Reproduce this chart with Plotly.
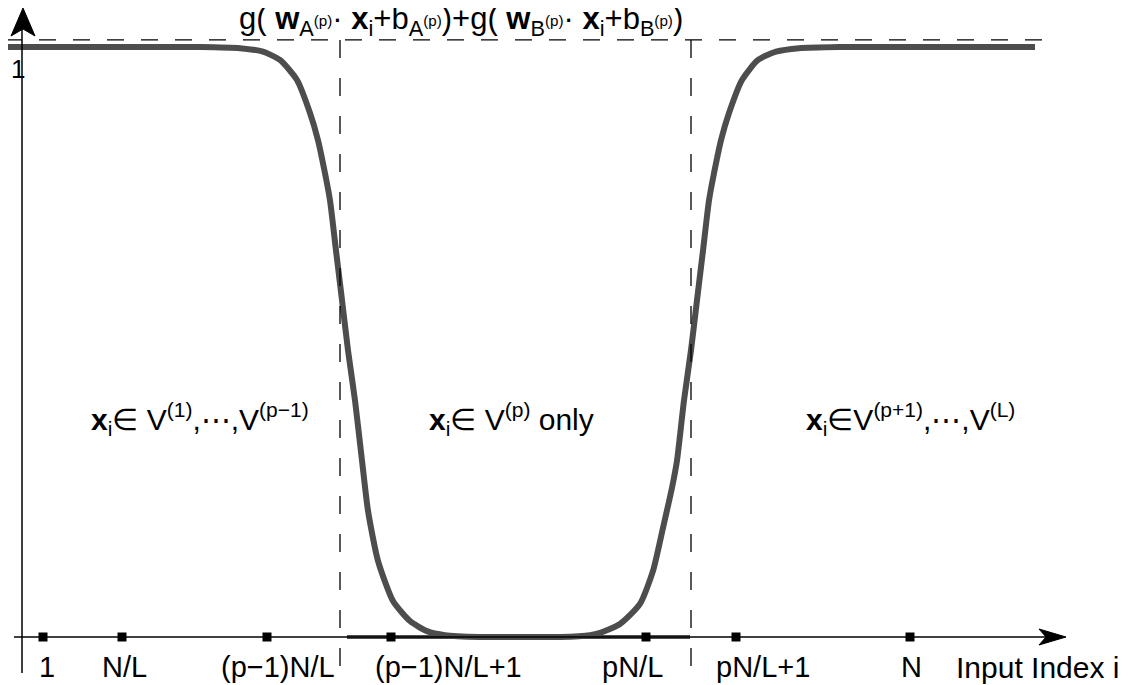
import plotly.graph_objects as go

# ---------------- data ----------------
# curve: g(w_A.x+b_A) + g(w_B.x+b_B) over input index position
curve_x = [4, 100, 200, 240, 263, 280, 297, 310, 318, 325, 330, 336, 342, 348, 355,
           362, 368, 378, 393, 410, 427, 445, 480, 520, 560, 590, 600, 620, 640, 653,
           663, 672, 677, 684, 691, 697, 703, 709, 714, 721, 729, 742, 758, 776, 799,
           839, 950, 1035]
curve_y = [1.0, 1.0, 1.0, 0.998, 0.992, 0.978, 0.944, 0.888, 0.842, 0.786, 0.740,
           0.655, 0.571, 0.486, 0.401, 0.299, 0.214, 0.129, 0.061, 0.027, 0.010,
           0.003, 0.0, 0.0, 0.0, 0.003, 0.007, 0.022, 0.056, 0.112, 0.185, 0.253,
           0.299, 0.401, 0.486, 0.571, 0.655, 0.740, 0.786, 0.842, 0.888, 0.944,
           0.978, 0.992, 0.998, 1.0, 1.0, 1.0]
# flat zero segment drawn over the axis between the two boundaries
zero_seg_x = [347, 690]
zero_seg_y = [0.0, 0.0]

# tick markers on the index axis
tick_x = [43, 122, 267, 391, 646, 736, 910]
tick_y = [0, 0, 0, 0, 0, 0, 0]
tick_labels = ["1", "N/L", "(p\u22121)N/L", "(p\u22121)N/L+1", "pN/L", "pN/L+1", "N"]
tick_label_x = [47, 124, 278, 448, 632, 763, 911]

# boundaries of V^(p) and the asymptote level
boundary_x = [340, 691]
asymptote_y = 1.012

# region labels
region_labels = [
    "<b>x</b><sub>i</sub>\u2208 V<sup>(1)</sup>,\u22ef,V<sup>(p\u22121)</sup>",
    "<b>x</b><sub>i</sub>\u2208 V<sup>(p)</sup> only",
    "<b>x</b><sub>i</sub>\u2208V<sup>(p+1)</sup>,\u22ef,V<sup>(L)</sup>",
]
region_label_x = [200, 511, 910]
region_label_y = [0.37, 0.37, 0.37]

title_text = ("g( <b>w</b><sub>A<sup>(p)</sup></sub>\u00b7 <b>x</b><sub>i</sub>+b<sub>A<sup>(p)</sup></sub>)"
              "+g( <b>w</b><sub>B<sup>(p)</sup></sub>\u00b7 <b>x</b><sub>i</sub>+b<sub>B<sup>(p)</sup></sub>)")
xaxis_title = "Input Index i"

# ---------------- layout helpers ----------------
W, H = 1129, 685
OFF = 8                       # default page margin of the html body
Y0PX, Y1PX = 637, 47          # pixel rows of value 0 and value 1


def yv(py):
    return (Y0PX - py) / (Y0PX - Y1PX)


FONT = "Liberation Sans, Arial, Helvetica, sans-serif"

fig = go.Figure()

# curve
fig.add_trace(go.Scatter(x=curve_x, y=curve_y, mode="lines",
                         line=dict(color="#4d4d4d", width=6, shape="spline", smoothing=0.6),
                         hoverinfo="skip"))
fig.add_trace(go.Scatter(x=zero_seg_x, y=zero_seg_y, mode="lines",
                         line=dict(color="#4d4d4d", width=4), hoverinfo="skip"))

shapes = []
# x axis line
shapes.append(dict(type="line", xref="x", yref="y", x0=14, x1=1050, y0=0, y1=0,
                   line=dict(color="black", width=1.5)))
# y axis line
shapes.append(dict(type="line", xref="x", yref="y", x0=22, x1=22, y0=yv(673), y1=yv(20),
                   line=dict(color="black", width=1.5)))


def P(px, py):
    return f"{px},{yv(py)}"


# arrowheads
shapes.append(dict(type="path", xref="x", yref="y",
                   path=f"M{P(1066, 637)} L{P(1039, 629)} L{P(1046, 637)} L{P(1039, 645)} Z",
                   fillcolor="black", line=dict(color="black", width=1)))
shapes.append(dict(type="path", xref="x", yref="y",
                   path=f"M{P(23, 8)} L{P(11, 36)} L{P(23, 29)} L{P(35, 36)} Z",
                   fillcolor="black", line=dict(color="black", width=1)))
# dashed asymptote
shapes.append(dict(type="line", xref="x", yref="y", x0=5, x1=1055, y0=asymptote_y, y1=asymptote_y,
                   line=dict(color="black", width=1.3, dash="17px,17px")))
# dashed boundaries
for bx in boundary_x:
    shapes.append(dict(type="line", xref="x", yref="y", x0=bx, x1=bx, y0=asymptote_y, y1=yv(676),
                       line=dict(color="black", width=1.3, dash="18px,20px")))

fig.add_trace(go.Scatter(x=tick_x, y=tick_y, mode="markers",
                         marker=dict(symbol="square", size=9, color="black"),
                         hoverinfo="skip"))

annotations = []
for lx, lt in zip(tick_label_x, tick_labels):
    annotations.append(dict(x=lx, y=yv(667), xref="x", yref="y", text=lt, showarrow=False,
                            xanchor="center", yanchor="middle",
                            font=dict(family=FONT, size=29, color="black")))
annotations.append(dict(x=1037, y=yv(667), xref="x", yref="y", text=xaxis_title, showarrow=False,
                        xanchor="center", yanchor="middle",
                        font=dict(family=FONT, size=30, color="black")))
annotations.append(dict(x=9, y=yv(69), xref="x", yref="y", text="1", showarrow=False,
                        xanchor="left", yanchor="middle",
                        font=dict(family=FONT, size=26, color="black")))
for rx, ry, rt in zip(region_label_x, region_label_y, region_labels):
    annotations.append(dict(x=rx, y=ry, xref="x", yref="y", text=rt, showarrow=False,
                            xanchor="center", yanchor="middle",
                            font=dict(family=FONT, size=30, color="black")))
annotations.append(dict(x=461, y=yv(21), xref="x", yref="y", text=title_text, showarrow=False,
                        xanchor="center", yanchor="middle",
                        font=dict(family=FONT, size=31, color="black")))

fig.update_layout(
    width=W - OFF, height=H - OFF, autosize=False,
    margin=dict(l=0, r=0, t=0, b=0, pad=0),
    paper_bgcolor="white", plot_bgcolor="white",
    showlegend=False,
    xaxis=dict(range=[OFF, W], visible=False, fixedrange=True),
    yaxis=dict(range=[yv(H), yv(OFF)], visible=False, fixedrange=True),
    shapes=shapes, annotations=annotations,
)

fig.write_html("out.html")
